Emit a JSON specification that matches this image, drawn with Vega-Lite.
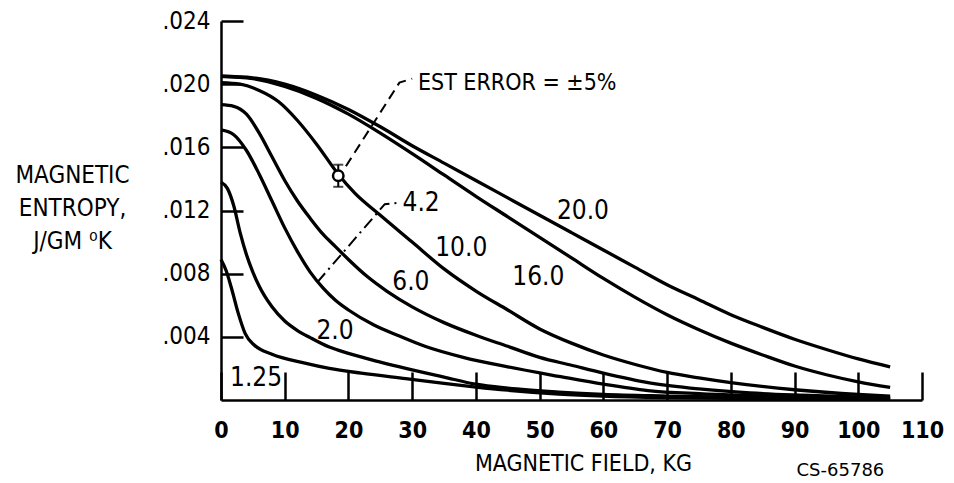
{
  "$schema": "https://vega.github.io/schema/vega-lite/v6.json",
  "width": 701,
  "height": 379,
  "autosize": "none",
  "padding": {"left": 221, "top": 21, "right": 32, "bottom": 83},
  "background": "white",
  "config": {"view": {"stroke": null}, "font": "DejaVu Sans Condensed, DejaVu Sans, sans-serif"},
  "datasets": {
    "curves": [
      {"T":"20.0","H":0,"S":0.0205},{"T":"20.0","H":5,"S":0.0204},{"T":"20.0","H":10,"S":0.0200},{"T":"20.0","H":15,"S":0.0193},{"T":"20.0","H":20,"S":0.0184},{"T":"20.0","H":25,"S":0.0173},{"T":"20.0","H":30,"S":0.0161},{"T":"20.0","H":35,"S":0.0150},{"T":"20.0","H":40,"S":0.0139},{"T":"20.0","H":45,"S":0.0128},{"T":"20.0","H":50,"S":0.0117},{"T":"20.0","H":55,"S":0.0106},{"T":"20.0","H":60,"S":0.0095},{"T":"20.0","H":65,"S":0.0084},{"T":"20.0","H":70,"S":0.0073},{"T":"20.0","H":75,"S":0.00635},{"T":"20.0","H":80,"S":0.0054},{"T":"20.0","H":85,"S":0.0046},{"T":"20.0","H":90,"S":0.00385},{"T":"20.0","H":95,"S":0.0032},{"T":"20.0","H":100,"S":0.0026},{"T":"20.0","H":105,"S":0.0021},
      {"T":"16.0","H":0,"S":0.0205},{"T":"16.0","H":5,"S":0.02035},{"T":"16.0","H":10,"S":0.01985},{"T":"16.0","H":15,"S":0.0191},{"T":"16.0","H":20,"S":0.0181},{"T":"16.0","H":25,"S":0.0169},{"T":"16.0","H":30,"S":0.0156},{"T":"16.0","H":35,"S":0.01425},{"T":"16.0","H":40,"S":0.0129},{"T":"16.0","H":45,"S":0.0116},{"T":"16.0","H":50,"S":0.0103},{"T":"16.0","H":55,"S":0.0090},{"T":"16.0","H":60,"S":0.0077},{"T":"16.0","H":65,"S":0.0065},{"T":"16.0","H":70,"S":0.0054},{"T":"16.0","H":75,"S":0.00445},{"T":"16.0","H":80,"S":0.0036},{"T":"16.0","H":85,"S":0.00285},{"T":"16.0","H":90,"S":0.00215},{"T":"16.0","H":95,"S":0.0016},{"T":"16.0","H":100,"S":0.00115},{"T":"16.0","H":105,"S":0.0008},
      {"T":"10.0","H":0,"S":0.0201},{"T":"10.0","H":3,"S":0.0200},{"T":"10.0","H":6,"S":0.0196},{"T":"10.0","H":9,"S":0.0189},{"T":"10.0","H":12,"S":0.0177},{"T":"10.0","H":15,"S":0.0162},{"T":"10.0","H":18.4,"S":0.0143},{"T":"10.0","H":21,"S":0.0131},{"T":"10.0","H":25,"S":0.0117},{"T":"10.0","H":30,"S":0.0100},{"T":"10.0","H":35,"S":0.0083},{"T":"10.0","H":40,"S":0.0069},{"T":"10.0","H":45,"S":0.0057},{"T":"10.0","H":50,"S":0.0045},{"T":"10.0","H":55,"S":0.0036},{"T":"10.0","H":60,"S":0.00285},{"T":"10.0","H":65,"S":0.00225},{"T":"10.0","H":70,"S":0.00175},{"T":"10.0","H":75,"S":0.0014},{"T":"10.0","H":80,"S":0.0011},{"T":"10.0","H":90,"S":0.00065},{"T":"10.0","H":100,"S":0.00035},{"T":"10.0","H":105,"S":0.00025},
      {"T":"6.0","H":0,"S":0.0187},{"T":"6.0","H":2,"S":0.0186},{"T":"6.0","H":4,"S":0.0181},{"T":"6.0","H":6,"S":0.0169},{"T":"6.0","H":8,"S":0.0154},{"T":"6.0","H":10,"S":0.0139},{"T":"6.0","H":12,"S":0.0126},{"T":"6.0","H":14,"S":0.0115},{"T":"6.0","H":16,"S":0.0105},{"T":"6.0","H":18,"S":0.0097},{"T":"6.0","H":20,"S":0.0089},{"T":"6.0","H":23,"S":0.0078},{"T":"6.0","H":26,"S":0.0069},{"T":"6.0","H":30,"S":0.0059},{"T":"6.0","H":35,"S":0.0049},{"T":"6.0","H":40,"S":0.0041},{"T":"6.0","H":45,"S":0.0034},{"T":"6.0","H":50,"S":0.0027},{"T":"6.0","H":55,"S":0.0022},{"T":"6.0","H":60,"S":0.0017},{"T":"6.0","H":67,"S":0.0011},{"T":"6.0","H":75,"S":0.0007},{"T":"6.0","H":83,"S":0.00045},{"T":"6.0","H":90,"S":0.00032},{"T":"6.0","H":100,"S":0.0002},{"T":"6.0","H":105,"S":0.00015},
      {"T":"4.2","H":0,"S":0.0171},{"T":"4.2","H":2,"S":0.0168},{"T":"4.2","H":4,"S":0.0158},{"T":"4.2","H":6,"S":0.0143},{"T":"4.2","H":8,"S":0.0126},{"T":"4.2","H":10,"S":0.0109},{"T":"4.2","H":12,"S":0.0094},{"T":"4.2","H":14,"S":0.0081},{"T":"4.2","H":16,"S":0.0071},{"T":"4.2","H":18,"S":0.0063},{"T":"4.2","H":20,"S":0.0057},{"T":"4.2","H":24,"S":0.00475},{"T":"4.2","H":28,"S":0.00405},{"T":"4.2","H":32,"S":0.0034},{"T":"4.2","H":38,"S":0.0027},{"T":"4.2","H":45,"S":0.0021},{"T":"4.2","H":53,"S":0.0015},{"T":"4.2","H":60,"S":0.0010},{"T":"4.2","H":67,"S":0.0006},{"T":"4.2","H":75,"S":0.0004},{"T":"4.2","H":83,"S":0.00028},{"T":"4.2","H":90,"S":0.0002},{"T":"4.2","H":100,"S":0.00014},{"T":"4.2","H":105,"S":0.0001},
      {"T":"2.0","H":0,"S":0.0138},{"T":"2.0","H":1,"S":0.0134},{"T":"2.0","H":2,"S":0.0123},{"T":"2.0","H":3,"S":0.0106},{"T":"2.0","H":4,"S":0.0092},{"T":"2.0","H":5,"S":0.0081},{"T":"2.0","H":6,"S":0.0072},{"T":"2.0","H":8,"S":0.0059},{"T":"2.0","H":10,"S":0.0050},{"T":"2.0","H":12,"S":0.0044},{"T":"2.0","H":14,"S":0.00395},{"T":"2.0","H":17,"S":0.00335},{"T":"2.0","H":20,"S":0.00295},{"T":"2.0","H":25,"S":0.0024},{"T":"2.0","H":29,"S":0.0020},{"T":"2.0","H":35,"S":0.00145},{"T":"2.0","H":40,"S":0.0010},{"T":"2.0","H":45,"S":0.00075},{"T":"2.0","H":53,"S":0.0005},{"T":"2.0","H":60,"S":0.00035},{"T":"2.0","H":70,"S":0.00025},{"T":"2.0","H":80,"S":0.00018},{"T":"2.0","H":90,"S":0.00013},{"T":"2.0","H":105,"S":0.00008},
      {"T":"1.25","H":0,"S":0.0089},{"T":"1.25","H":0.8,"S":0.0082},{"T":"1.25","H":1.7,"S":0.0070},{"T":"1.25","H":2.7,"S":0.0055},{"T":"1.25","H":3.8,"S":0.0042},{"T":"1.25","H":5.3,"S":0.00345},{"T":"1.25","H":8,"S":0.0029},{"T":"1.25","H":13,"S":0.00235},{"T":"1.25","H":17,"S":0.0020},{"T":"1.25","H":22,"S":0.0017},{"T":"1.25","H":29,"S":0.00135},{"T":"1.25","H":35,"S":0.00105},{"T":"1.25","H":40,"S":0.00082},{"T":"1.25","H":45,"S":0.00062},{"T":"1.25","H":53,"S":0.00038},{"T":"1.25","H":60,"S":0.00025},{"T":"1.25","H":70,"S":0.00015},{"T":"1.25","H":80,"S":0.0001},{"T":"1.25","H":90,"S":0.00007},{"T":"1.25","H":105,"S":0.00005}
    ],
    "labels": [
      {"L":"20.0","H":56.8,"S":0.0120},
      {"L":"16.0","H":49.8,"S":0.0078},
      {"L":"10.0","H":37.7,"S":0.0096},
      {"L":"6.0","H":29.8,"S":0.0075},
      {"L":"4.2","H":31.4,"S":0.0125},
      {"L":"2.0","H":17.9,"S":0.0044},
      {"L":"1.25","H":5.5,"S":0.0014}
    ],
    "errLeader": [
      {"o":1,"H":19.6,"S":0.0148},
      {"o":2,"H":28.0,"S":0.0201},
      {"o":3,"H":30.0,"S":0.02035}
    ],
    "leader42": [
      {"o":1,"H":15.1,"S":0.00745},
      {"o":2,"H":25.7,"S":0.0124},
      {"o":3,"H":28.1,"S":0.0125}
    ],
    "errPoint": [{"H":18.4,"S":0.0142,"S2":0.0135,"S3":0.0149}],
    "notes": [
      {"N":"EST ERROR = ±5%","H":30.9,"S":0.0201}
    ],
    "code": [{"N":"CS-65786","H":97.2,"S":-0.0045}]
  },
  "encoding": {
    "x": {
      "field": "H", "type": "quantitative",
      "scale": {"domain": [0, 110], "nice": false, "zero": false},
      "axis": {
        "values": [0,10,20,30,40,50,60,70,80,90,100,110],
        "grid": false,
        "tickSize": -28, "tickWidth": 2.5, "tickColor": "black",
        "domainWidth": 2.5, "domainColor": "black",
        "labelPadding": 47, "labelFlush": false,
        "labelFont": "DejaVu Sans Condensed, DejaVu Sans, sans-serif", "labelFontSize": 23, "labelFontWeight": "bold", "labelColor": "black",
        "title": "MAGNETIC FIELD, KG",
        "titleFont": "DejaVu Sans Condensed, DejaVu Sans, sans-serif", "titleFontSize": 23, "titleFontWeight": "normal", "titleColor": "black",
        "titleX": 362, "titleY": 63, "titleBaseline": "middle", "titleAnchor": null, "titleAlign": "center"
      }
    },
    "y": {
      "field": "S", "type": "quantitative",
      "scale": {"domain": [0, 0.024], "nice": false, "zero": false},
      "axis": {
        "values": [0.004,0.008,0.012,0.016,0.020,0.024],
        "labelExpr": "substring(format(datum.value, '.3f'), 1)",
        "grid": false,
        "tickSize": -22, "tickWidth": 2.5, "tickColor": "black",
        "domainWidth": 2.5, "domainColor": "black",
        "labelPadding": 33,
        "labelFont": "DejaVu Sans Condensed, DejaVu Sans, sans-serif", "labelFontSize": 24, "labelColor": "black",
        "title": ["MAGNETIC", "ENTROPY,", "J/GM ⁰K"],
        "titleFont": "DejaVu Sans Condensed, DejaVu Sans, sans-serif", "titleFontSize": 24, "titleFontWeight": "normal", "titleColor": "black",
        "titleAngle": 0, "titleX": -149, "titleY": 154, "titleAlign": "center", "titleBaseline": "middle",
        "titleLineHeight": 33, "titleAnchor": null
      }
    }
  },
  "layer": [
    {
      "data": {"name": "curves"},
      "mark": {"type": "line", "interpolate": "monotone", "color": "black", "strokeWidth": 3.3, "clip": false},
      "encoding": {"detail": {"field": "T"}}
    },
    {
      "data": {"name": "errLeader"},
      "mark": {"type": "line", "color": "black", "strokeWidth": 2, "strokeDash": [10, 6]},
      "encoding": {"order": {"field": "o"}}
    },
    {
      "data": {"name": "leader42"},
      "mark": {"type": "line", "color": "black", "strokeWidth": 2, "strokeDash": [12, 5, 2, 5]},
      "encoding": {"order": {"field": "o"}}
    },
    {
      "data": {"name": "errPoint"},
      "mark": {"type": "rule", "color": "black", "strokeWidth": 2},
      "encoding": {"y": {"field": "S2", "type": "quantitative"}, "y2": {"field": "S3"}}
    },
    {
      "data": {"name": "errPoint"},
      "mark": {"type": "tick", "orient": "horizontal", "color": "black", "size": 10, "thickness": 2},
      "encoding": {"y": {"field": "S2", "type": "quantitative"}}
    },
    {
      "data": {"name": "errPoint"},
      "mark": {"type": "tick", "orient": "horizontal", "color": "black", "size": 10, "thickness": 2},
      "encoding": {"y": {"field": "S3", "type": "quantitative"}}
    },
    {
      "data": {"name": "errPoint"},
      "mark": {"type": "point", "shape": "circle", "size": 110, "filled": true, "fill": "white", "stroke": "black", "strokeWidth": 2.5, "opacity": 1}
    },
    {
      "data": {"name": "labels"},
      "mark": {"type": "text", "font": "DejaVu Sans Condensed, DejaVu Sans, sans-serif", "fontSize": 26, "color": "black", "align": "center", "baseline": "middle"},
      "encoding": {"text": {"field": "L"}}
    },
    {
      "data": {"name": "notes"},
      "mark": {"type": "text", "font": "DejaVu Sans Condensed, DejaVu Sans, sans-serif", "fontSize": 23, "color": "black", "align": "left", "baseline": "middle"},
      "encoding": {"text": {"field": "N"}}
    },
    {
      "data": {"name": "code"},
      "mark": {"type": "text", "font": "DejaVu Sans", "fontSize": 18, "color": "black", "align": "center", "baseline": "middle"},
      "encoding": {"text": {"field": "N"}}
    }
  ]
}
